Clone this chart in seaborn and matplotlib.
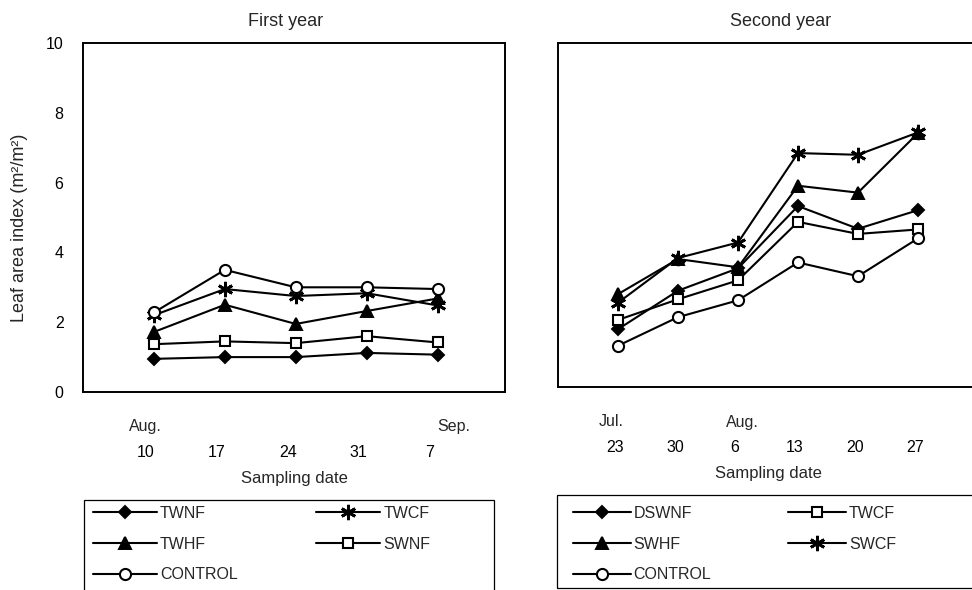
import numpy as np
import pandas as pd
import matplotlib
matplotlib.use("Agg")
import matplotlib.pyplot as plt
import seaborn as sns
from matplotlib.transforms import ScaledTranslation
from matplotlib.patches import Rectangle

# ---------------- data ----------------
# First year
first_days = ["10", "17", "24", "31", "7"]
first_months = ["Aug.", "", "", "", "Sep."]
TWNF_1 = [0.95, 1.0, 1.0, 1.12, 1.07]
TWCF_1 = [2.2, 2.95, 2.75, 2.83, 2.48]
TWHF_1 = [1.72, 2.5, 1.95, 2.32, 2.68]
SWNF_1 = [1.37, 1.45, 1.4, 1.6, 1.42]
CONTROL_1 = [2.28, 3.5, 3.0, 3.0, 2.95]

# Second year
second_days = ["23", "30", "6", "13", "20", "27"]
second_months = ["Jul.", "", "Aug.", "", "", ""]
DSWNF_2 = [1.68, 2.8, 3.45, 5.26, 4.6, 5.14]
TWCF_2 = [1.95, 2.55, 3.1, 4.8, 4.45, 4.58]
SWHF_2 = [2.7, 3.72, 3.48, 5.85, 5.65, 7.38]
SWCF_2 = [2.45, 3.75, 4.2, 6.8, 6.75, 7.4]
CONTROL_2 = [1.2, 2.03, 2.52, 3.62, 3.22, 4.32]

y_ticks = [0, 2, 4, 6, 8, 10]

# ---------------- style ----------------
sns.set_style("white")
plt.rcParams["font.family"] = ["Liberation Sans", "DejaVu Sans"]

MARKERS = {
    "diamond": dict(marker="D", markersize=6.5, markerfacecolor="black", markeredgewidth=1.4),
    "triangle": dict(marker="^", markersize=8, markerfacecolor="black", markeredgewidth=1.4),
    "square": dict(marker="s", markersize=7.5, markerfacecolor="white", markeredgewidth=1.5),
    "circle": dict(marker="o", markersize=8, markerfacecolor="white", markeredgewidth=1.5),
    "star": dict(marker=(6, 2, 0), markersize=11, markerfacecolor="black", markeredgewidth=2.0),
}

first_series = [("TWNF", TWNF_1, "diamond"), ("TWCF", TWCF_1, "star"),
                ("TWHF", TWHF_1, "triangle"), ("SWNF", SWNF_1, "square"),
                ("CONTROL", CONTROL_1, "circle")]
second_series = [("DSWNF", DSWNF_2, "diamond"), ("TWCF", TWCF_2, "square"),
                 ("SWHF", SWHF_2, "triangle"), ("SWCF", SWCF_2, "star"),
                 ("CONTROL", CONTROL_2, "circle")]

W, H = 972, 590
fig = plt.figure(figsize=(W / 100, H / 100), dpi=100)
fig.patch.set_facecolor("white")

ax1 = fig.add_axes([83 / W, (H - 392) / H, 422 / W, 349 / H])
ax2 = fig.add_axes([558 / W, (H - 387) / H, 420 / W, 344 / H])


def draw(ax, series, days, months, xlim, day_shift_px, month_shift_px):
    handles = {}
    for name, vals, mk in series:
        df = pd.DataFrame({"x": np.arange(len(vals)), "y": vals})
        sns.lineplot(data=df, x="x", y="y", ax=ax, color="black", linewidth=1.5,
                     markeredgecolor="black", label=name,
                     legend=False, **MARKERS[mk])
        handles[name] = ax.get_lines()[-1]
    ax.set_xlim(*xlim)
    ax.set_ylim(0, 10)
    ax.set_xticks(np.arange(len(days)))
    ax.set_xticklabels(days)
    ax.set_yticks(y_ticks)
    ax.tick_params(direction="in", length=4, width=1, colors="black", labelsize=11.5)
    ax.tick_params(axis="x", pad=38)
    ax.tick_params(axis="y", pad=14)
    for s in ax.spines.values():
        s.set_color("black")
        s.set_linewidth(1.4)
    for lbl in ax.get_xticklabels():
        lbl.set_transform(lbl.get_transform() +
                          ScaledTranslation(day_shift_px / 100, 0, fig.dpi_scale_trans))
    for i, m in enumerate(months):
        if m:
            ax.annotate(m, xy=(i, 0), xycoords=("data", "axes fraction"),
                        xytext=(month_shift_px[m] * 0.72, -35 * 0.72),
                        textcoords="offset points", ha="center", va="center",
                        fontsize=11.5)
    ax.set_xlabel("Sampling date", fontsize=12, labelpad=8)
    ax.set_ylabel("")
    return handles


h1 = draw(ax1, first_series, first_days, first_months, (-1, 4.95), -8,
          {"Aug.": -9, "Sep.": 16})
h2 = draw(ax2, second_series, second_days, second_months, (-1, 6.0), -3,
          {"Jul.": -7, "Aug.": 4})
ax2.tick_params(labelleft=False)

ax1.set_ylabel("Leaf area index (m\u00b2/m\u00b2)", fontsize=13)
ax1.yaxis.set_label_coords(-0.13, 0.47)

ax1.text(0.48, 1 + 21 / 349, "First year", transform=ax1.transAxes,
         ha="center", va="center", fontsize=13)
ax2.text(0.529, 1 + 21 / 344, "Second year", transform=ax2.transAxes,
         ha="center", va="center", fontsize=13)

# legends (column-major order to get the row layout of the reference)
order1 = ["TWNF", "TWHF", "CONTROL", "TWCF", "SWNF"]
order2 = ["DSWNF", "SWHF", "CONTROL", "TWCF", "SWCF"]
leg_kw = dict(ncol=2, loc="upper left", frameon=False, borderpad=0,
              borderaxespad=0, handletextpad=0.2, labelspacing=0.98,
              fontsize=11.5)
fig.legend([h1[k] for k in order1], order1, handlelength=4.0,
           bbox_to_anchor=(93 / W, 1 - 506 / H), columnspacing=4.9, **leg_kw)
fig.legend([h2[k] for k in order2], order2, handlelength=3.6,
           bbox_to_anchor=(573 / W, 1 - 506 / H), columnspacing=4.8, **leg_kw)

fig.add_artist(Rectangle((84 / W, -0.02), (494 - 84) / W, (H - 500) / H + 0.02,
                         transform=fig.transFigure, fill=False, lw=0.9,
                         ec="black"))
fig.add_artist(Rectangle((557 / W, 2 / H), 0.5, (588 - 495) / H,
                         transform=fig.transFigure, fill=False, lw=0.9,
                         ec="black"))

fig.savefig("out.png", dpi=100, facecolor="white")
